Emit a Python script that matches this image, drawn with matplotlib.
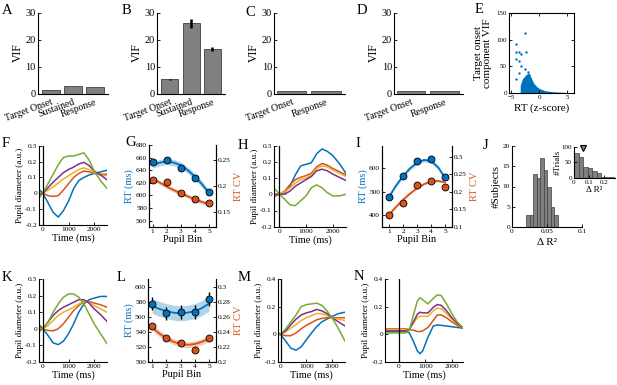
import numpy as np
import matplotlib
matplotlib.use("Agg")
import matplotlib.pyplot as plt

plt.rcParams['font.family'] = ['Liberation Serif', 'DejaVu Serif']
plt.rcParams['xtick.direction'] = 'in'
plt.rcParams['ytick.direction'] = 'in'
plt.rcParams['xtick.major.size'] = 2
plt.rcParams['ytick.major.size'] = 2
plt.rcParams['xtick.major.width'] = 0.6
plt.rcParams['ytick.major.width'] = 0.6
plt.rcParams['xtick.major.pad'] = 1.5
plt.rcParams['ytick.major.pad'] = 1.5
plt.rcParams['axes.linewidth'] = 0.8

W, H = 617, 385

BLUE = "#0072BD"
ORANGE = "#D95319"
YELLOW = "#EDB120"
PURPLE = "#7E2F8E"
GREEN = "#77AC30"
BIN_COLORS = [BLUE, ORANGE, YELLOW, PURPLE, GREEN]
BAR_GRAY = "#808080"

# ---------------- data ----------------
vif_labels3 = ["Target Onset", "Sustained", "Response"]
vif_labels2 = ["Target Onset", "Response"]
vif_a = [1.3, 2.7, 2.3]
vif_b = [5.2, 26.0, 16.5]
vif_b_err = [0.3, 1.6, 0.8]
vif_c = [1.0, 1.0]
vif_d = [1.1, 1.1]

# panel E: outlying trials and the upper edge of the dense cloud
e_out_x = [-2.6, -4.1, -4.2, -3.6, -3.3, -2.3, -4.2, -3.7, -3.3, -3.7, -4.1, -2.0, -2.6]
e_out_y = [113, 91, 76, 76, 73, 76, 63, 60, 50, 37, 27, 40, 45]
e_cloud_x = [-3.4, -3.0, -2.5, -2.0, -1.7, -1.4, -1.0, -0.5, 0, 0.5, 1, 2, 3, 4, 5, 6.2]
e_cloud_y = [15, 27, 33, 38, 36, 28, 19, 13, 9, 7, 5, 3.5, 2.5, 2, 1.5, 1]

# pupil time courses (bins 1..5: blue, orange, yellow, purple, green)
t_pupil = [-150, 0, 200, 400, 600, 800, 1000, 1200, 1400, 1600, 1800, 2000, 2250, 2500]
f_curves = [
    [0.025, 0.0, -0.06, -0.12, -0.15, -0.11, -0.05, 0.03, 0.08, 0.10, 0.115, 0.125, 0.135, 0.145],
    [0.0, 0.0, -0.015, -0.02, -0.015, 0.02, 0.06, 0.10, 0.125, 0.14, 0.135, 0.125, 0.12, 0.12],
    [-0.01, 0.0, 0.02, 0.04, 0.065, 0.09, 0.11, 0.13, 0.15, 0.16, 0.15, 0.13, 0.115, 0.11],
    [-0.01, 0.0, 0.035, 0.07, 0.10, 0.13, 0.15, 0.165, 0.185, 0.195, 0.175, 0.14, 0.115, 0.085],
    [-0.03, 0.0, 0.06, 0.12, 0.18, 0.225, 0.235, 0.235, 0.245, 0.255, 0.21, 0.14, 0.08, 0.03],
]
h_curves = [
    [-0.01, 0.0, 0.01, 0.05, 0.12, 0.175, 0.185, 0.195, 0.25, 0.28, 0.265, 0.24, 0.19, 0.13],
    [-0.01, 0.0, 0.02, 0.06, 0.09, 0.105, 0.115, 0.13, 0.17, 0.19, 0.18, 0.16, 0.14, 0.12],
    [0.0, 0.0, 0.015, 0.04, 0.07, 0.09, 0.10, 0.12, 0.16, 0.175, 0.17, 0.15, 0.13, 0.11],
    [0.0, 0.0, 0.0, 0.02, 0.05, 0.07, 0.09, 0.11, 0.145, 0.155, 0.145, 0.125, 0.105, 0.085],
    [0.03, 0.0, -0.03, -0.065, -0.07, -0.04, -0.01, 0.04, 0.058, 0.04, 0.01, -0.01, -0.01, 0.0],
]
k_curves = [
    [0.025, 0.0, -0.04, -0.085, -0.095, -0.075, -0.03, 0.03, 0.10, 0.15, 0.175, 0.185, 0.195, 0.195],
    [0.01, 0.0, -0.01, -0.012, 0.0, 0.03, 0.07, 0.11, 0.14, 0.165, 0.165, 0.155, 0.145, 0.13],
    [0.0, 0.0, 0.02, 0.05, 0.08, 0.10, 0.115, 0.13, 0.15, 0.165, 0.16, 0.14, 0.12, 0.10],
    [-0.01, 0.0, 0.04, 0.08, 0.11, 0.13, 0.145, 0.16, 0.175, 0.175, 0.155, 0.12, 0.085, 0.045],
    [-0.02, 0.0, 0.04, 0.10, 0.15, 0.19, 0.21, 0.21, 0.19, 0.15, 0.09, 0.03, -0.03, -0.09],
]
m_curves = [
    [0.02, 0.0, -0.05, -0.1, -0.115, -0.09, -0.04, 0.01, 0.055, 0.09, 0.11, 0.13, 0.15, 0.16],
    [0.0, 0.0, -0.01, -0.01, 0.01, 0.04, 0.065, 0.085, 0.105, 0.115, 0.12, 0.12, 0.12, 0.12],
    [0.0, 0.0, 0.02, 0.045, 0.07, 0.10, 0.12, 0.135, 0.15, 0.15, 0.135, 0.12, 0.11, 0.10],
    [0.0, 0.0, 0.025, 0.07, 0.11, 0.14, 0.155, 0.165, 0.18, 0.17, 0.15, 0.12, 0.09, 0.06],
    [-0.01, 0.0, 0.04, 0.09, 0.14, 0.2, 0.215, 0.22, 0.225, 0.21, 0.17, 0.12, 0.04, -0.05],
]
t_n = [-500, -250, 0, 250, 400, 550, 700, 800, 900, 1100, 1300, 1450, 1600, 1800, 2000, 2200, 2400]
n_curves = [
    [0.02, 0.02, 0.02, 0.02, 0.01, -0.05, -0.12, -0.14, -0.12, -0.02, 0.06, 0.068, 0.065, 0.06, 0.055, 0.05, 0.045],
    [0.04, 0.04, 0.04, 0.04, 0.035, 0.03, 0.02, 0.02, 0.025, 0.05, 0.10, 0.14, 0.14, 0.12, 0.09, 0.065, 0.045],
    [0.035, 0.035, 0.035, 0.035, 0.04, 0.08, 0.12, 0.13, 0.13, 0.13, 0.17, 0.19, 0.185, 0.15, 0.11, 0.075, 0.05],
    [0.025, 0.025, 0.025, 0.025, 0.035, 0.09, 0.145, 0.16, 0.155, 0.155, 0.195, 0.215, 0.21, 0.17, 0.12, 0.08, 0.05],
    [0.01, 0.01, 0.01, 0.01, 0.03, 0.14, 0.24, 0.265, 0.25, 0.22, 0.26, 0.285, 0.28, 0.22, 0.15, 0.09, 0.05],
]

# behaviour per pupil bin, with quadratic fits
pupil_bins = [1, 2, 3, 4, 5]
fit_x = [1, 1.5, 2, 2.5, 3, 3.5, 4, 4.5, 5]

g_rt = [653, 656, 643, 628, 606]
g_rt_err = [4, 4, 4, 4, 4]
g_rt_fit = [648, 652, 654, 652, 648, 640, 630, 618, 604]
g_rt_band = 5
g_cv = [0.211, 0.208, 0.187, 0.175, 0.167]
g_cv_err = [0.003, 0.003, 0.003, 0.003, 0.003]
g_cv_fit = [0.214, 0.207, 0.199, 0.192, 0.186, 0.180, 0.174, 0.169, 0.165]
g_cv_band = 0.004

i_rt = [478, 568, 631, 640, 562]
i_rt_err = [3, 3, 3, 3, 3]
i_rt_fit = [478, 526, 567, 600, 624, 636, 632, 605, 560]
i_rt_band = 8
i_cv = [0.133, 0.167, 0.218, 0.231, 0.214]
i_cv_err = [0.002, 0.002, 0.002, 0.002, 0.002]
i_cv_fit = [0.135, 0.157, 0.177, 0.195, 0.210, 0.222, 0.229, 0.231, 0.227]
i_cv_band = 0.003

l_rt = [578, 565, 567, 567, 584]
l_rt_err = [9, 9, 9, 9, 9]
l_rt_fit = [575, 571, 568, 566, 565, 566, 568, 572, 578]
l_rt_band = 10
l_cv = [0.248, 0.2315, 0.2256, 0.2157, 0.2315]
l_cv_err = [0.004, 0.004, 0.004, 0.004, 0.004]
l_cv_fit = [0.246, 0.238, 0.232, 0.227, 0.224, 0.223, 0.224, 0.227, 0.231]
l_cv_band = 0.004

# panel J histograms
j_edges = [0.02, 0.025, 0.03, 0.035, 0.04, 0.045, 0.05, 0.055, 0.06, 0.065]
j_counts = [3, 3, 13, 12, 17, 14, 10, 5, 3]
j_in_edges = [0, 0.03, 0.06, 0.09, 0.12, 0.15, 0.18, 0.21, 0.24, 0.27]
j_in_counts = [80, 67, 37, 33, 23, 17, 4, 3, 2]
j_in_mean = 0.06


def add_ax(fig, left, top, right, bottom):
    """Place an axes from pixel coordinates of the 617x385 canvas."""
    return fig.add_axes([left / W, 1 - bottom / H, (right - left) / W, (bottom - top) / H])


def letter(fig, x, y, s):
    fig.text(x / W, 1 - y / H, s, fontsize=10.5, va='top', ha='left')


def clean(ax):
    ax.spines['top'].set_visible(False)
    ax.spines['right'].set_visible(False)


def vif_panel(ax, labels, vals, err=None):
    x = np.arange(1, len(vals) + 1)
    width = 0.8 if len(vals) == 3 else 0.85
    ax.bar(x, vals, width=width, color=BAR_GRAY, edgecolor='#404040', linewidth=0.6)
    if err is not None:
        ax.errorbar(x, vals, yerr=err, fmt='none', ecolor='k', elinewidth=1.8, capsize=0)
    ax.set_ylim(0, 30)
    ax.set_yticks([0, 10, 20, 30])
    if len(vals) == 3:
        ax.set_xlim(0.4, 3.6)
    else:
        ax.set_xlim(0.5, 2.55)
    ax.set_xticks(x)
    ax.set_xticklabels(labels, rotation=20, ha='right', va='top', rotation_mode='anchor', fontsize=7)
    ax.tick_params(axis='y', labelsize=7.5)
    ax.tick_params(axis='x', length=0, pad=3)
    ax.set_ylabel('VIF', fontsize=8.5, labelpad=1)
    clean(ax)


def pupil_panel(ax, t, curves, ylim, yticks, yticklabels, xlim):
    for c, y in zip(BIN_COLORS, curves):
        ax.plot(t, y, color=c, lw=1.1)
    ax.axvline(0, color='k', lw=0.9)
    ax.set_xlim(*xlim)
    ax.set_ylim(*ylim)
    ax.set_xticks([0, 1000, 2000])
    ax.set_xticklabels(['0', '1000', '2000'])
    ax.set_yticks(yticks)
    ax.set_yticklabels(yticklabels)
    ax.tick_params(labelsize=5.3)
    ax.set_xlabel('Time (ms)', fontsize=7.5, labelpad=1)
    ax.set_ylabel('Pupil diameter (a.u.)', fontsize=6.6, labelpad=1)
    clean(ax)


def fit_panel(ax, rt, rt_err, rt_fit, rt_band, cv, cv_err, cv_fit, cv_band,
              rt_lim, rt_ticks, cv_lim, cv_ticks, cv_labels, xlim):
    ax2 = ax.twinx()
    lo = np.array(rt_fit) - rt_band
    hi = np.array(rt_fit) + rt_band
    ax.fill_between(fit_x, lo, hi, color=BLUE, alpha=0.3, lw=0)
    ax.plot(fit_x, rt_fit, color=BLUE, lw=1.3)
    ax.errorbar(pupil_bins, rt, yerr=rt_err, fmt='o', ms=5, mfc=BLUE, mec='k', mew=0.6,
                ecolor='k', elinewidth=1, capsize=0)
    lo = np.array(cv_fit) - cv_band
    hi = np.array(cv_fit) + cv_band
    ax2.fill_between(fit_x, lo, hi, color=ORANGE, alpha=0.3, lw=0)
    ax2.plot(fit_x, cv_fit, color=ORANGE, lw=1.3)
    ax2.errorbar(pupil_bins, cv, yerr=cv_err, fmt='o', ms=5, mfc=ORANGE, mec='k', mew=0.6,
                 ecolor='k', elinewidth=1, capsize=0)
    ax.set_xlim(*xlim)
    ax.set_ylim(*rt_lim)
    ax.set_yticks(rt_ticks)
    ax2.set_ylim(*cv_lim)
    ax2.set_yticks(cv_ticks)
    ax2.set_yticklabels(cv_labels)
    ax.set_xticks(pupil_bins)
    ax.tick_params(labelsize=5.3)
    ax2.tick_params(labelsize=5.3)
    ax.set_xlabel('Pupil Bin', fontsize=7.5, labelpad=1)
    ax.set_ylabel('RT (ms)', fontsize=7.5, color=BLUE, labelpad=1)
    ax2.set_ylabel('RT CV', fontsize=7.5, color=ORANGE, labelpad=2)
    ax.spines['top'].set_visible(False)
    ax2.spines['top'].set_visible(False)
    return ax2


fig = plt.figure(figsize=(6.17, 3.85), dpi=100)

# ---- row 1: VIF ----
ax = add_ax(fig, 37.5, 12.5, 108, 93.5)
vif_panel(ax, vif_labels3, vif_a)
ax = add_ax(fig, 157, 12.5, 225, 93.5)
vif_panel(ax, vif_labels3, vif_b, vif_b_err)
ax = add_ax(fig, 274, 12.5, 345, 93.5)
vif_panel(ax, vif_labels2, vif_c)
ax = add_ax(fig, 394, 12.5, 463, 93.5)
vif_panel(ax, vif_labels2, vif_d)

ax = add_ax(fig, 509, 12.7, 574, 93.3)
ax.fill_between(e_cloud_x, 0, e_cloud_y, color=BLUE, lw=0)
ax.scatter(e_out_x, e_out_y, s=3, color=BLUE, lw=0)
ax.set_xlim(-5.4, 6.2)
ax.set_ylim(0, 150)
ax.set_xticks([-5, 0, 5])
ax.set_yticks([0, 50, 100, 150])
ax.tick_params(labelsize=5, top=True, right=True)
ax.set_xlabel('RT (z-score)', fontsize=8, labelpad=2)
ax.set_ylabel('Target onset\ncomponent VIF', fontsize=8, labelpad=3, linespacing=1.0)

# ---- row 2 ----
pupil_ticks = [-0.2, -0.1, 0, 0.1, 0.2, 0.3]
pupil_labels = ['-0.2', '-0.1', '0', '0.1', '0.2', '0.3']
ax = add_ax(fig, 39, 145.7, 107, 225)
pupil_panel(ax, t_pupil, f_curves, (-0.2, 0.3), pupil_ticks, pupil_labels, (-150, 2500))

ax = add_ax(fig, 149, 145, 216, 227)
fit_panel(ax, g_rt, g_rt_err, g_rt_fit, g_rt_band, g_cv, g_cv_err, g_cv_fit, g_cv_band,
          (550, 680), [560, 580, 600, 620, 640, 660, 680],
          (0.12, 0.28), [0.15, 0.2, 0.25], ['0.15', '0.2', '0.25'], (0.75, 5.5))

ax = add_ax(fig, 274, 145.7, 346, 226.7)
pupil_panel(ax, t_pupil, h_curves, (-0.2, 0.3), pupil_ticks, pupil_labels, (-200, 2500))

ax = add_ax(fig, 382, 146, 452, 227)
fit_panel(ax, i_rt, i_rt_err, i_rt_fit, i_rt_band, i_cv, i_cv_err, i_cv_fit, i_cv_band,
          (348, 696), [400, 500, 600],
          (0.1, 0.33), [0.1, 0.15, 0.2, 0.25, 0.3], ['0.1', '0.15', '0.2', '0.25', '0.3'], (0.5, 5.5))

ax = add_ax(fig, 512, 146, 582, 227)
ax.bar(j_edges[:-1], j_counts, width=np.diff(j_edges), align='edge',
       color=BAR_GRAY, edgecolor='#404040', linewidth=0.5)
ax.set_xlim(0, 0.1)
ax.set_ylim(0, 20)
ax.set_xticks([0, 0.05, 0.1])
ax.set_xticklabels(['0', '0.05', '0.1'])
ax.set_yticks([0, 5, 10, 15, 20])
ax.tick_params(labelsize=5.3)
ax.set_xlabel('Δ R²', fontsize=8, labelpad=3)
ax.set_ylabel('#Subjects', fontsize=8, labelpad=1)
clean(ax)

ax = add_ax(fig, 574, 147, 615, 178)
ax.bar(j_in_edges[:-1], j_in_counts, width=np.diff(j_in_edges), align='edge',
       color=BAR_GRAY, edgecolor='#404040', linewidth=0.5)
ax.plot([j_in_mean], [97], marker='v', ms=5, mfc=BAR_GRAY, mec='k', mew=0.8, clip_on=False)
ax.set_xlim(0, 0.27)
ax.set_ylim(0, 100)
ax.set_xticks([0, 0.1, 0.2])
ax.set_xticklabels(['0', '0.1', '0.2'])
ax.set_yticks([0, 50, 100])
ax.tick_params(labelsize=5)
ax.set_xlabel('Δ R²', fontsize=6.5, labelpad=1)
ax.set_ylabel('#Trials', fontsize=6.5, labelpad=0)
clean(ax)

# ---- row 3 ----
ax = add_ax(fig, 39, 279, 107, 362)
pupil_panel(ax, t_pupil, k_curves, (-0.2, 0.3), pupil_ticks, pupil_labels, (-150, 2500))

ax = add_ax(fig, 148, 279, 216, 362)
fit_panel(ax, l_rt, l_rt_err, l_rt_fit, l_rt_band, l_cv, l_cv_err, l_cv_fit, l_cv_band,
          (500, 611), [500, 520, 540, 560, 580, 600],
          (0.2, 0.311), [0.2, 0.22, 0.24, 0.26, 0.28, 0.3],
          ['0.2', '0.22', '0.24', '0.26', '0.28', '0.3'], (0.7, 5.5))

ax = add_ax(fig, 278, 279, 345, 362)
pupil_panel(ax, t_pupil, m_curves, (-0.2, 0.4), [-0.2, 0, 0.2, 0.4],
            ['-0.2', '0', '0.2', '0.4'], (-100, 2500))

ax = add_ax(fig, 385, 279, 463, 362)
pupil_panel(ax, t_n, n_curves, (-0.2, 0.4), [-0.2, 0, 0.2, 0.4],
            ['-0.2', '0', '0.2', '0.4'], (-520, 2420))

# panel letters
for s, x, y in [('A', 2, 4), ('B', 122, 4), ('C', 245, 6), ('D', 357, 4), ('E', 475, 3),
                ('F', 2, 137), ('G', 125, 136), ('H', 238, 139), ('I', 355, 137), ('J', 483, 139),
                ('K', 2, 271), ('L', 117, 271), ('M', 238, 271), ('N', 354, 270)]:
    letter(fig, x, y, s)

fig.savefig('out.png', dpi=100)
